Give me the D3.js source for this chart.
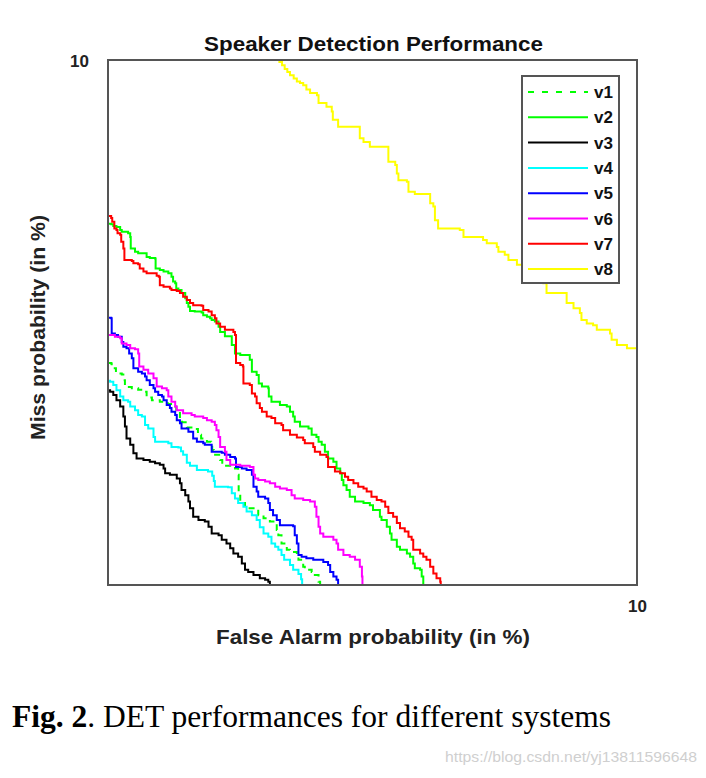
<!DOCTYPE html>
<html><head><meta charset="utf-8">
<script src="https://cdn.jsdelivr.net/npm/d3@7"></script>
<style>body{margin:0;background:#fff}svg{display:block}</style>
</head><body>
<svg id="c" width="706" height="778"></svg>
<script>
const seriesNames = ["v1","v2","v3","v4","v5","v6","v7","v8"];
const seriesColors = ["#00ff00","#00ff00","#000000","#00ffff","#0000ff","#ff00ff","#ff0000","#ffff00"];
const xTicks = [10];
const yTicks = [10];

const v1 = [[0,4.23],[0.06,4.22],[0.07,4.13],[0.15,4.03],[0.26,4.01],[0.29,3.90],[0.32,3.77],[0.45,3.75],[0.57,3.72],[0.67,3.68],[0.73,3.57],[0.83,3.52],[0.98,3.49],[1.13,3.45],[1.23,3.40],[1.29,3.30],[1.36,3.18],[1.40,3.10],[1.49,3.00],[1.64,2.97],[1.70,2.86],[1.76,2.79],[1.87,2.73],[1.95,2.70],[1.97,2.57],[2.00,2.48],[2.12,2.38],[2.16,2.27],[2.31,2.25],[2.40,2.22],[2.46,2.10],[2.47,1.75],[2.50,1.56],[2.59,1.46],[2.84,1.33],[2.94,1.27],[3.06,1.21],[3.16,1.18],[3.19,1.05],[3.22,0.95],[3.28,0.79],[3.38,0.67],[3.44,0.63],[3.57,0.54],[3.60,0.48],[3.69,0.35],[3.72,0.29],[3.85,0.25],[3.91,0.19],[3.98,0.06],[4.01,0]];
const v2 = [[0,6.88],[0.06,6.87],[0.10,6.84],[0.16,6.82],[0.23,6.76],[0.26,6.73],[0.38,6.70],[0.42,6.63],[0.43,6.41],[0.51,6.35],[0.57,6.32],[0.67,6.32],[0.73,6.25],[0.79,6.23],[0.89,6.22],[0.90,6.03],[0.98,6.00],[1.05,5.97],[1.14,5.94],[1.20,5.87],[1.23,5.78],[1.27,5.75],[1.29,5.65],[1.33,5.62],[1.39,5.56],[1.46,5.46],[1.49,5.37],[1.52,5.30],[1.55,5.22],[1.64,5.21],[1.77,5.19],[1.80,5.14],[1.87,5.11],[1.93,5.08],[1.96,5.05],[2.02,5.02],[2.09,4.92],[2.12,4.82],[2.21,4.74],[2.34,4.57],[2.40,4.41],[2.50,4.38],[2.68,4.29],[2.72,4.06],[2.81,4.00],[2.85,3.84],[2.91,3.78],[3.03,3.75],[3.04,3.59],[3.09,3.49],[3.25,3.43],[3.38,3.40],[3.44,3.30],[3.50,3.21],[3.53,3.11],[3.63,3.02],[3.79,2.98],[3.85,2.86],[3.94,2.82],[3.98,2.73],[4.04,2.67],[4.10,2.54],[4.16,2.41],[4.26,2.35],[4.32,2.22],[4.39,2.13],[4.42,2.00],[4.45,1.90],[4.51,1.81],[4.57,1.68],[4.67,1.59],[4.83,1.56],[4.95,1.52],[5.01,1.43],[5.14,1.30],[5.17,1.24],[5.27,1.11],[5.33,0.98],[5.36,0.86],[5.46,0.73],[5.52,0.67],[5.65,0.60],[5.71,0.54],[5.77,0.41],[5.80,0.32],[5.90,0.29],[5.93,0.16],[5.96,0]];
const v3 = [[0,3.71],[0.04,3.68],[0.10,3.62],[0.16,3.52],[0.23,3.40],[0.29,3.21],[0.32,3.02],[0.35,2.79],[0.42,2.67],[0.48,2.51],[0.54,2.41],[0.67,2.38],[0.79,2.35],[0.89,2.32],[0.98,2.29],[1.05,2.22],[1.08,2.13],[1.17,2.10],[1.30,2.03],[1.36,1.94],[1.39,1.81],[1.46,1.71],[1.52,1.59],[1.55,1.46],[1.61,1.30],[1.71,1.24],[1.83,1.21],[1.90,1.11],[1.96,0.98],[2.09,0.95],[2.15,0.86],[2.24,0.79],[2.31,0.70],[2.37,0.60],[2.46,0.54],[2.53,0.41],[2.59,0.29],[2.65,0.25],[2.75,0.19],[2.87,0.13],[2.97,0.10],[3.03,0.06],[3.06,0]];
const v4 = [[0,3.89],[0.04,3.87],[0.10,3.81],[0.16,3.71],[0.23,3.59],[0.29,3.52],[0.38,3.49],[0.42,3.40],[0.51,3.33],[0.57,3.24],[0.64,3.21],[0.70,3.05],[0.76,2.98],[0.86,2.82],[0.89,2.73],[1.05,2.73],[1.14,2.70],[1.20,2.63],[1.33,2.62],[1.38,2.55],[1.42,2.48],[1.49,2.33],[1.55,2.27],[1.68,2.19],[1.89,2.16],[1.97,2.08],[2.00,1.98],[2.02,1.87],[2.27,1.86],[2.34,1.75],[2.40,1.65],[2.46,1.56],[2.56,1.49],[2.62,1.40],[2.72,1.33],[2.81,1.24],[2.87,1.10],[2.94,0.98],[3.03,0.92],[3.09,0.79],[3.16,0.73],[3.22,0.67],[3.28,0.57],[3.33,0.48],[3.44,0.38],[3.50,0.29],[3.60,0.21],[3.65,0.11],[3.67,0]];
const v5 = [[0,5.09],[0.06,5.08],[0.07,4.79],[0.13,4.76],[0.19,4.73],[0.26,4.63],[0.29,4.54],[0.35,4.51],[0.40,4.41],[0.45,4.32],[0.48,4.13],[0.57,4.06],[0.64,4.03],[0.70,3.97],[0.73,3.90],[0.79,3.81],[0.86,3.75],[0.89,3.68],[0.95,3.62],[1.02,3.59],[1.05,3.52],[1.11,3.43],[1.17,3.37],[1.20,3.30],[1.27,3.24],[1.30,3.14],[1.36,3.08],[1.39,2.98],[1.52,2.92],[1.61,2.79],[1.68,2.73],[1.80,2.70],[1.83,2.67],[1.96,2.54],[2.15,2.52],[2.21,2.48],[2.31,2.44],[2.40,2.41],[2.42,2.25],[2.53,2.22],[2.62,2.19],[2.72,2.10],[2.75,1.87],[2.81,1.78],[2.84,1.68],[2.97,1.65],[3.03,1.56],[3.06,1.43],[3.12,1.33],[3.19,1.24],[3.25,1.14],[3.50,1.12],[3.53,0.95],[3.57,0.79],[3.60,0.57],[3.66,0.54],[3.75,0.51],[3.88,0.48],[4.07,0.44],[4.16,0.38],[4.20,0.25],[4.26,0.16],[4.32,0.10],[4.35,0]];
const v6 = [[0,4.76],[0.06,4.76],[0.13,4.73],[0.23,4.70],[0.26,4.60],[0.35,4.57],[0.42,4.51],[0.51,4.49],[0.57,4.41],[0.59,4.16],[0.67,4.10],[0.76,4.03],[0.86,3.94],[0.92,3.78],[1.02,3.75],[1.11,3.71],[1.14,3.59],[1.20,3.49],[1.27,3.40],[1.30,3.33],[1.42,3.27],[1.58,3.24],[1.64,3.21],[1.80,3.18],[1.87,3.14],[1.96,3.11],[2.02,3.05],[2.05,2.95],[2.09,2.82],[2.12,2.63],[2.21,2.54],[2.24,2.38],[2.31,2.29],[2.50,2.27],[2.68,2.25],[2.75,2.10],[2.78,2.03],[2.84,2.00],[2.97,1.97],[3.06,1.94],[3.16,1.87],[3.25,1.84],[3.38,1.81],[3.47,1.71],[3.53,1.65],[3.69,1.62],[3.82,1.59],[3.91,1.49],[3.94,1.30],[3.98,1.11],[4.01,0.98],[4.07,0.92],[4.26,0.86],[4.32,0.79],[4.35,0.67],[4.45,0.57],[4.57,0.54],[4.67,0.48],[4.76,0.35],[4.80,0.16],[4.81,0]];
const v7 = [[0,7.03],[0.06,6.99],[0.08,6.92],[0.12,6.79],[0.16,6.76],[0.18,6.70],[0.23,6.67],[0.25,6.54],[0.29,6.41],[0.31,6.19],[0.45,6.17],[0.48,6.13],[0.57,6.11],[0.60,6.03],[0.67,5.97],[0.73,5.94],[0.89,5.94],[0.92,5.89],[0.96,5.87],[0.98,5.71],[1.05,5.68],[1.17,5.65],[1.20,5.62],[1.30,5.60],[1.36,5.56],[1.42,5.49],[1.49,5.43],[1.55,5.37],[1.61,5.33],[1.77,5.32],[1.80,5.24],[1.90,5.21],[1.96,5.14],[2.02,5.08],[2.05,4.98],[2.12,4.92],[2.21,4.86],[2.37,4.82],[2.40,4.76],[2.42,4.23],[2.50,4.19],[2.55,4.16],[2.56,3.84],[2.68,3.81],[2.72,3.65],[2.78,3.59],[2.81,3.46],[2.87,3.37],[2.91,3.30],[3.00,3.21],[3.09,3.18],[3.16,3.08],[3.28,3.05],[3.31,2.95],[3.44,2.86],[3.57,2.81],[3.69,2.76],[3.72,2.70],[3.88,2.63],[3.91,2.54],[4.01,2.48],[4.13,2.44],[4.16,2.25],[4.29,2.16],[4.39,2.13],[4.48,2.06],[4.54,2.00],[4.64,1.94],[4.73,1.87],[4.83,1.84],[4.89,1.78],[4.98,1.68],[5.08,1.62],[5.17,1.59],[5.24,1.49],[5.30,1.37],[5.39,1.30],[5.46,1.18],[5.52,1.08],[5.61,1.02],[5.68,0.92],[5.74,0.86],[5.77,0.67],[5.90,0.60],[5.96,0.54],[6.02,0.48],[6.09,0.35],[6.15,0.22],[6.21,0.13],[6.28,0.06],[6.29,0]];
const v8 = [[3.22,10.0],[3.24,9.96],[3.29,9.90],[3.34,9.83],[3.39,9.77],[3.44,9.71],[3.51,9.65],[3.57,9.59],[3.63,9.56],[3.69,9.52],[3.75,9.44],[3.82,9.37],[3.95,9.33],[3.98,9.18],[4.13,9.11],[4.23,9.02],[4.25,8.86],[4.35,8.73],[4.70,8.73],[4.76,8.51],[4.83,8.44],[4.95,8.35],[5.27,8.35],[5.30,8.06],[5.43,8.00],[5.46,7.84],[5.49,7.71],[5.65,7.68],[5.68,7.49],[5.80,7.45],[6.02,7.45],[6.09,7.27],[6.15,7.21],[6.18,6.95],[6.24,6.79],[6.65,6.76],[6.72,6.63],[7.09,6.57],[7.16,6.51],[7.35,6.44],[7.38,6.35],[7.50,6.29],[7.57,6.19],[7.73,6.10],[7.91,6.00],[8.04,5.87],[8.23,5.75],[8.29,5.56],[8.58,5.56],[8.67,5.37],[8.80,5.27],[8.92,5.18],[8.95,5.05],[9.05,4.98],[9.17,4.95],[9.24,4.86],[9.49,4.79],[9.52,4.67],[9.62,4.57],[9.81,4.51],[10.0,4.44]];
const seriesData = [v1,v2,v3,v4,v5,v6,v7,v8];

const svg = d3.select("#c");
const L=108, R=637, T=60, B=585;
const x = d3.scaleLinear().domain([0,10]).range([L,R]);
const y = d3.scaleLinear().domain([0,10]).range([B,T]);
const font = "'Liberation Sans', Arial, sans-serif";

svg.append("defs").append("clipPath").attr("id","clip")
  .append("rect").attr("x",L).attr("y",T).attr("width",R-L).attr("height",B-T);

const line = d3.line().x(d=>x(d[0])).y(d=>y(d[1])).curve(d3.curveStepAfter);
const g = svg.append("g").attr("clip-path","url(#clip)");
seriesData.forEach((d,i)=>{
  g.append("path").attr("d",line(d)).attr("fill","none")
   .attr("stroke",seriesColors[i]).attr("stroke-width",2)
   .attr("stroke-dasharray", i===0 ? "6,5" : null);
});

// frame
svg.append("rect").attr("x",L).attr("y",T).attr("width",R-L).attr("height",B-T)
  .attr("fill","none").attr("stroke","#555").attr("stroke-width",2);

// axes (only tick "10")
const ax = svg.append("g").attr("transform",`translate(0,${B})`)
  .call(d3.axisBottom(x).tickValues(xTicks).tickSize(0).tickPadding(15).tickFormat(d3.format("d")));
ax.select(".domain").remove();
ax.selectAll("text").attr("font-family",font).attr("font-weight","bold").attr("font-size",17).attr("fill","#222");
const ay = svg.append("g").attr("transform",`translate(${L},0)`)
  .call(d3.axisLeft(y).tickValues(yTicks).tickSize(0).tickPadding(19).tickFormat(d3.format("d")));
ay.select(".domain").remove();
ay.selectAll("text").attr("font-family",font).attr("font-weight","bold").attr("font-size",17).attr("fill","#222").attr("dy","0.4em");

// title and labels
svg.append("text").attr("x",373.5).attr("y",51).attr("text-anchor","middle")
  .attr("font-family",font).attr("font-weight","bold").attr("font-size",21).attr("fill","#111")
  .attr("textLength",339).attr("lengthAdjust","spacingAndGlyphs")
  .text("Speaker Detection Performance");
svg.append("text").attr("x",373).attr("y",644).attr("text-anchor","middle")
  .attr("font-family",font).attr("font-weight","bold").attr("font-size",21).attr("fill","#222")
  .attr("textLength",314).attr("lengthAdjust","spacingAndGlyphs")
  .text("False Alarm probability (in %)");
svg.append("text").attr("transform","translate(45,327.5) rotate(-90)").attr("text-anchor","middle")
  .attr("font-family",font).attr("font-weight","bold").attr("font-size",21).attr("fill","#222")
  .attr("textLength",225).attr("lengthAdjust","spacingAndGlyphs")
  .text("Miss probability (in %)");

// legend
const lg = svg.append("g");
lg.append("rect").attr("x",522).attr("y",76).attr("width",97).attr("height",207)
  .attr("fill","#fff").attr("stroke","#555").attr("stroke-width",2);
seriesNames.forEach((n,i)=>{
  const yy = 92 + i*25.3;
  lg.append("line").attr("x1",528).attr("x2",588).attr("y1",yy).attr("y2",yy)
    .attr("stroke",seriesColors[i]).attr("stroke-width",2)
    .attr("stroke-dasharray", i===0 ? "6,8" : null);
  lg.append("text").attr("x",594).attr("y",yy+6).attr("font-family",font)
    .attr("font-weight","bold").attr("font-size",17).attr("fill","#111").text(n);
});

// caption
const cap = svg.append("text").attr("x",12).attr("y",727)
  .attr("font-family","'Liberation Serif','Times New Roman',serif").attr("font-size",31).attr("fill","#000")
  .attr("textLength",599).attr("lengthAdjust","spacingAndGlyphs");
cap.append("tspan").attr("font-weight","bold").text("Fig. 2");
cap.append("tspan").text(". DET performances for different systems");

svg.append("text").attr("x",697).attr("y",762).attr("text-anchor","end")
  .attr("font-family",font).attr("font-size",15.5).attr("fill","#cfcfcf")
  .attr("textLength",252).attr("lengthAdjust","spacingAndGlyphs")
  .text("https://blog.csdn.net/yj13811596648");
</script>
</body></html>
